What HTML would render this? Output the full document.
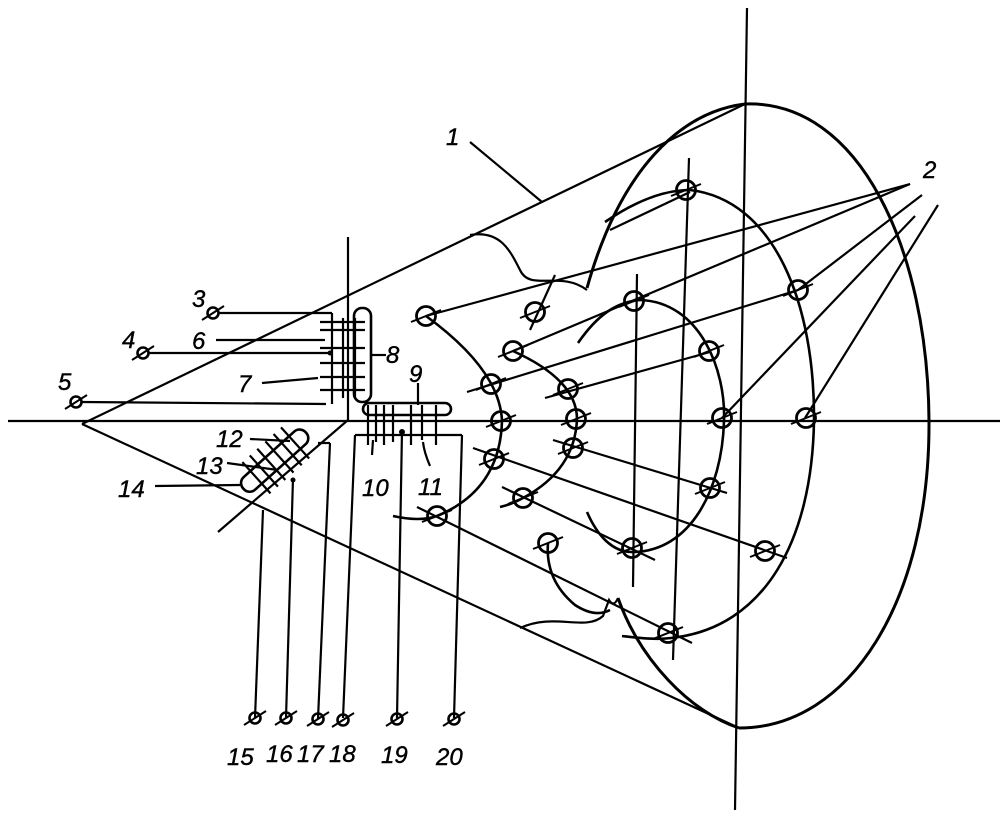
<!DOCTYPE html>
<html><head><meta charset="utf-8"><style>
html,body{margin:0;padding:0;background:#fff}
svg{display:block}
text{font-family:"Liberation Sans",sans-serif;font-style:italic;font-size:24px;fill:#000;stroke:#000;stroke-width:0.4}
</style></head><body>
<svg width="1000" height="819" viewBox="0 0 1000 819" xmlns="http://www.w3.org/2000/svg">
<defs>
<g id="c"><circle r="9.5" fill="none" stroke="#000" stroke-width="2.8"/><line x1="-15" y1="6" x2="15" y2="-6" stroke="#000" stroke-width="2"/></g>
<g id="t"><circle r="5.5" fill="none" stroke="#000" stroke-width="2.6"/><line x1="-11" y1="7" x2="11" y2="-7" stroke="#000" stroke-width="2"/></g>
</defs>
<g fill="none" stroke="#000" stroke-width="2.2">
<line x1="8" y1="421" x2="1000" y2="421"/>
<line x1="747" y1="8" x2="735" y2="810"/>
<line x1="689" y1="158" x2="673" y2="660"/>
<line x1="637" y1="274" x2="633" y2="587"/>
<line x1="82" y1="424" x2="745" y2="104"/>
<line x1="82" y1="424" x2="739" y2="728"/>
<path stroke-width="3" d="M745,104 C860,100 928,250 929,421 C930,600 850,728 739,728"/>
<path stroke-width="3" d="M745,104 C680,112 620,170 587,288"/>
<path stroke-width="3" d="M618,598 C640,660 690,712 739,728"/>
<path d="M470,235 C500,230 510,250 520,270 C530,292 560,270 587,290"/>
<path d="M520,628 C555,612 585,632 603,616 L609,600 C612,605 615,605 618,598"/>
<path stroke-width="2.6" d="M605,222 C640,198 668,190 690,190 C775,200 815,305 814,421 C812,540 765,628 671,638 C655,640 640,638 622,636"/>
<path stroke-width="2.6" d="M578,343 C598,314 617,302 640,300 C700,302 726,370 724,421 C722,490 690,552 632,552 C612,552 597,535 587,512"/>
<path stroke-width="2.6" d="M426,316 Q500,370 502,421 Q500,490 437,516 Q420,522 393,516"/>
<path stroke-width="2.6" d="M513,351 Q577,380 577,419 Q575,470 523,498 Q510,505 500,507"/>
<path stroke-width="2.6" d="M548,543 Q545,580 575,605 Q595,618 610,610"/>
<line x1="426" y1="316" x2="910" y2="184"/>
<line x1="513" y1="351" x2="910" y2="184"/>
<line x1="467" y1="392" x2="798" y2="290"/>
<line x1="798" y1="290" x2="922" y2="195"/>
<line x1="545" y1="398" x2="710" y2="352"/>
<line x1="722" y1="418" x2="915" y2="216"/>
<line x1="805" y1="418" x2="938" y2="205"/>
<line x1="473" y1="448" x2="787" y2="558"/>
<line x1="553" y1="440" x2="727" y2="493"/>
<line x1="417" y1="507" x2="692" y2="643"/>
<line x1="502" y1="487" x2="655" y2="560"/>
<line x1="610" y1="230" x2="690" y2="192"/>
<line x1="530" y1="330" x2="555" y2="275"/>
<line x1="470" y1="142" x2="542" y2="202"/>
<line x1="218" y1="313" x2="332" y2="313"/>
<line x1="148" y1="353" x2="330" y2="353"/>
<line x1="81" y1="402" x2="326" y2="404"/>
<line x1="216" y1="340" x2="325" y2="340"/>
<line x1="262" y1="383" x2="318" y2="378"/>
<line x1="348" y1="237" x2="348" y2="420"/>
<line x1="348" y1="420" x2="218" y2="532"/>
<line x1="332" y1="313" x2="332" y2="404"/>
<line x1="343" y1="318" x2="343" y2="398"/>
<line x1="355" y1="318" x2="355" y2="398"/>
<line x1="320" y1="322" x2="365" y2="322"/>
<line x1="320" y1="330" x2="365" y2="330"/>
<line x1="320" y1="348" x2="365" y2="348"/>
<line x1="320" y1="363" x2="365" y2="363"/>
<line x1="320" y1="377" x2="365" y2="377"/>
<line x1="320" y1="390" x2="365" y2="390"/>
<rect x="354" y="308" width="17" height="94" rx="8" stroke-width="2.6"/>
<line x1="371" y1="355" x2="386" y2="355"/>
<rect x="363" y="403" width="88" height="12" rx="6" stroke-width="2.6"/>
<line x1="418" y1="383" x2="418" y2="405"/>
<line x1="368" y1="405" x2="368" y2="445"/><line x1="376" y1="405" x2="376" y2="442"/>
<line x1="384" y1="405" x2="384" y2="445"/><line x1="393" y1="405" x2="393" y2="442"/>
<line x1="411" y1="405" x2="411" y2="445"/><line x1="422" y1="405" x2="422" y2="440"/>
<line x1="436" y1="405" x2="436" y2="445"/>
<line x1="373" y1="440" x2="372" y2="455"/>
<path d="M423,442 Q424,452 430,466"/>
<line x1="355" y1="435" x2="462" y2="435"/>
<line x1="355" y1="435" x2="343" y2="718"/>
<line x1="462" y1="435" x2="454" y2="718"/>
<line x1="402" y1="430" x2="397" y2="718"/>
<g transform="rotate(-42 275 461)">
<rect x="233" y="452" width="84" height="17" rx="8" stroke-width="2.6"/>
<line x1="250" y1="440" x2="250" y2="482"/><line x1="260" y1="440" x2="260" y2="482"/>
<line x1="270" y1="440" x2="270" y2="482"/><line x1="281" y1="440" x2="281" y2="482"/>
<line x1="292" y1="440" x2="292" y2="482"/><line x1="302" y1="440" x2="302" y2="482"/>
</g>
<line x1="250" y1="439" x2="290" y2="441"/>
<line x1="227" y1="463" x2="278" y2="470"/>
<line x1="155" y1="486" x2="240" y2="485"/>
<line x1="263" y1="510" x2="255" y2="718"/>
<line x1="293" y1="478" x2="286" y2="718"/>
<line x1="330" y1="443" x2="318" y2="719"/>
<line x1="318" y1="443" x2="330" y2="443"/>
</g>
<circle cx="330" cy="353" r="2.5"/><circle cx="402" cy="432" r="3"/><circle cx="293" cy="480" r="2.5"/>
<use href="#c" x="426" y="316"/><use href="#c" x="491" y="384"/><use href="#c" x="501" y="421"/>
<use href="#c" x="494" y="459"/><use href="#c" x="437" y="516"/>
<use href="#c" x="513" y="351"/><use href="#c" x="568" y="389"/><use href="#c" x="576" y="419"/>
<use href="#c" x="573" y="448"/><use href="#c" x="523" y="498"/>
<use href="#c" x="535" y="312"/><use href="#c" x="548" y="543"/>
<use href="#c" x="634" y="301"/><use href="#c" x="709" y="351"/><use href="#c" x="722" y="418"/>
<use href="#c" x="710" y="488"/><use href="#c" x="632" y="548"/>
<use href="#c" x="686" y="190"/><use href="#c" x="798" y="290"/><use href="#c" x="806" y="418"/>
<use href="#c" x="765" y="551"/><use href="#c" x="668" y="633"/>
<use href="#t" x="213" y="313"/><use href="#t" x="143" y="353"/><use href="#t" x="76" y="402"/>
<use href="#t" x="255" y="718"/><use href="#t" x="286" y="718"/><use href="#t" x="318" y="719"/>
<use href="#t" x="343" y="720"/><use href="#t" x="397" y="719"/><use href="#t" x="454" y="719"/>
<text x="446" y="145">1</text>
<text x="923" y="178">2</text>
<text x="192" y="307">3</text>
<text x="122" y="348">4</text>
<text x="58" y="390">5</text>
<text x="192" y="349">6</text>
<text x="238" y="392">7</text>
<text x="386" y="363">8</text>
<text x="409" y="382">9</text>
<text x="362" y="496">10</text>
<text x="418" y="495">11</text>
<text x="216" y="447">12</text>
<text x="196" y="474">13</text>
<text x="118" y="497">14</text>
<text x="227" y="765">15</text>
<text x="266" y="762">16</text>
<text x="297" y="762">17</text>
<text x="329" y="762">18</text>
<text x="381" y="763">19</text>
<text x="436" y="765">20</text>
</svg>
</body></html>
